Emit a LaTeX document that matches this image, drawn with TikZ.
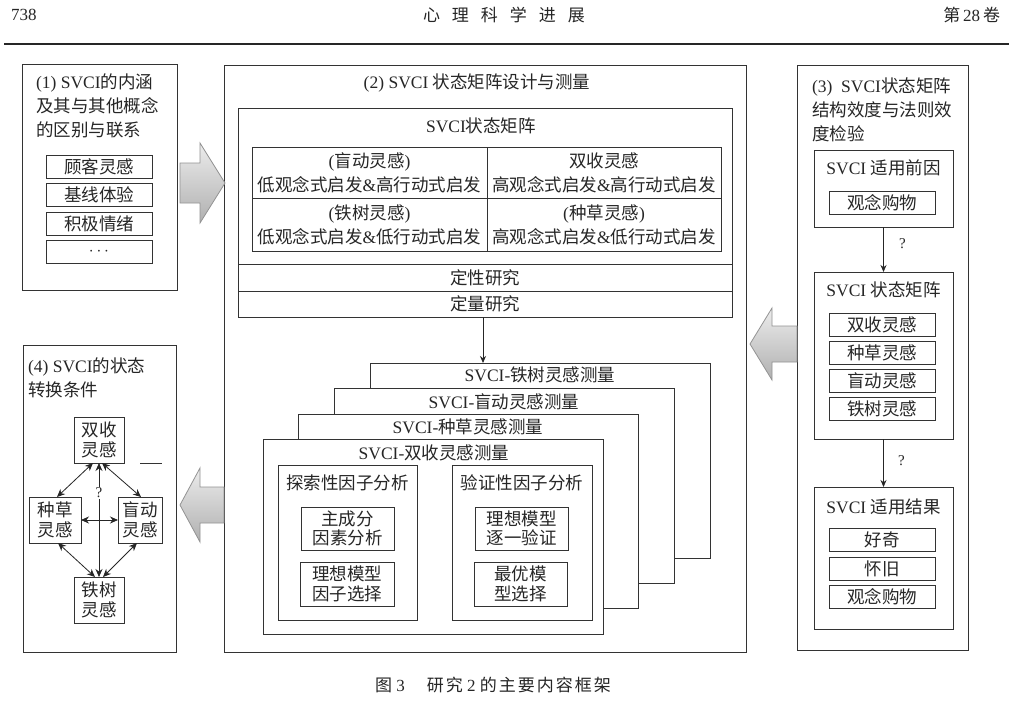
\documentclass[tikz,border=0pt]{standalone}
\usepackage{fontspec}
\setmainfont{Noto Sans CJK SC}
\newfontfamily\lat{Liberation Serif}
\usetikzlibrary{arrows.meta, positioning}
\newcommand\boxfont{\fontsize{17.5pt}{24pt}\selectfont}
\newcommand\tightfont{\fontsize{17.5pt}{19.5pt}\selectfont}
\newcommand\quadfont{\fontsize{17.5pt}{20pt}\selectfont}
\tikzset{
  box/.style={draw=black!80, line width=0.8pt, fill=white, inner sep=0pt, outer sep=0pt,
    text=black!85, align=center, font=\boxfont},
  frame/.style 2 args={box, minimum width=#1pt, minimum height=#2pt},
  ttl/.style={inner sep=0pt, outer sep=0pt, text=black!85, font=\boxfont, align=center},
  link/.style={->, line width=0.8pt, draw=black!85},
  dbl/.style={{Stealth[length=8pt,width=7pt]}-{Stealth[length=8pt,width=7pt]}, line width=0.8pt, draw=black!85},
  blockarrow/.style={top color=gray!15, bottom color=gray!62, draw=gray!85, line width=0.8pt},
  qmark/.style={inner sep=0.5pt, text=black!85, font=\lat\fontsize{15pt}{15pt}\selectfont}
}

\begin{document}
\begin{tikzpicture}[x=1pt, y=-1pt, >={Stealth[length=7pt,width=6pt]}]
  \fill[white] (0,0) rectangle (1014,701);
  \useasboundingbox (0,0) rectangle (1014,701);
  % running head
  \node[ttl, anchor=west, font=\lat\fontsize{17pt}{17pt}\selectfont] (pg) at (11,15) {738};
  \node[ttl, font=\fontsize{17pt}{17pt}\selectfont] (jn) at (504,15) {心\hspace{12pt}理\hspace{12pt}科\hspace{12pt}学\hspace{12pt}进\hspace{12pt}展};
  \node[ttl, anchor=east, font=\fontsize{17pt}{17pt}\selectfont] (vol) at (1000,15) {第{\lat\,28\,}卷};
  \draw[line width=1.4pt, black!85] (4,44) -- (1009,44);
  %
  % (1)
  \node[frame={155}{226}] (p1) at (99.5,177) {};
  \node[ttl, anchor=west, align=left] (t1) at (36,106) {{\lat (1) SVCI}的内涵\\及其与其他概念\\的区别与联系};
  \node[frame={106}{23}] (c1) at (99,166.5) {顾客灵感};
  \node[frame={106}{23}] (c2) at (99,195) {基线体验};
  \node[frame={106}{23}] (c3) at (99,223.5) {积极情绪};
  \node[frame={106}{23}] (c4) at (99,251.5) {$\cdots$};
  %
  % (2)
  \node[frame={522}{587}] (p2) at (485,358.5) {};
  \node[ttl] (t2) at (477,83) {{\lat (2) SVCI }状态矩阵设计与测量};
  \node[frame={494}{209}] (mat) at (485,212.5) {};
  \node[ttl] (matt) at (481,126) {{\lat SVCI}状态矩阵};
  \node[frame={235}{51}] (q1) at (369.5,172.5) {{\lat(}盲动灵感{\lat)}\\低观念式启发{\lat\&}高行动式启发};
  \node[frame={234}{51}] (q2) at (604,172.5) {双收灵感\\高观念式启发{\lat\&}高行动式启发};
  \node[frame={235}{53}] (q3) at (369.5,224.5) {{\lat(}铁树灵感{\lat)}\\低观念式启发{\lat\&}低行动式启发};
  \node[frame={234}{53}] (q4) at (604,224.5) {{\lat(}种草灵感{\lat)}\\高观念式启发{\lat\&}低行动式启发};
  \node[frame={494}{27}] (ql) at (485,277.5) {定性研究};
  \node[frame={494}{26}] (qn) at (485,304) {定量研究};
  %
  \node[frame={340}{195}] (mA) at (540,460.5) {};
  \node[ttl] (mAt) at (540,375) {{\lat SVCI-}铁树灵感测量};
  \node[frame={340}{195}] (mB) at (504,485.5) {};
  \node[ttl] (mBt) at (504,402) {{\lat SVCI-}盲动灵感测量};
  \node[frame={340}{194}] (mC) at (468,511) {};
  \node[ttl] (mCt) at (468,427) {{\lat SVCI-}种草灵感测量};
  \node[frame={340}{195}] (mD) at (433,536.5) {};
  \node[ttl] (mDt) at (434,453) {{\lat SVCI-}双收灵感测量};
  \draw[link] (qn.south) ++(-2,0) -- ([xshift=-57pt]mA.north);
  %
  \node[frame={139}{155}] (efa) at (347.5,542.5) {};
  \node[ttl] (efat) at (347.5,483) {探索性因子分析};
  \node[frame={93}{43}, font=\tightfont] (efa1) at (347.5,528.5) {主成分\\因素分析};
  \node[frame={94}{44}, font=\tightfont] (efa2) at (347,584) {理想模型\\因子选择};
  \node[frame={140}{155}] (cfa) at (522,542.5) {};
  \node[ttl] (cfat) at (522,483) {验证性因子分析};
  \node[frame={93}{43}, font=\tightfont] (cfa1) at (521.5,528.5) {理想模型\\逐一验证};
  \node[frame={93}{44}, font=\tightfont] (cfa2) at (520.5,584) {最优模\\型选择};
  %
  % (3)
  \node[frame={171}{585}] (p3) at (882.5,357.5) {};
  \node[ttl, anchor=west, align=left] (t3) at (812,109.5) {{\lat (3)\ \ SVCI}状态矩阵\\结构效度与法则效\\度检验};
  \node[frame={139}{77}] (ante) at (883.5,188.5) {};
  \node[ttl] (antet) at (883.5,168) {{\lat SVCI }适用前因};
  \node[frame={106}{23}] (a1) at (882,202.5) {观念购物};
  \node[frame={139}{167}] (smat) at (883.5,355.5) {};
  \node[ttl] (smatt) at (883.5,290) {{\lat SVCI }状态矩阵};
  \node[frame={106}{23}] (s1) at (882,324.5) {双收灵感};
  \node[frame={106}{23}] (s2) at (882,352.5) {种草灵感};
  \node[frame={106}{23}] (s3) at (882,380.5) {盲动灵感};
  \node[frame={106}{23}] (s4) at (882,409) {铁树灵感};
  \node[frame={139}{142}] (res) at (883.5,558) {};
  \node[ttl] (rest) at (883.5,507) {{\lat SVCI }适用结果};
  \node[frame={106}{23}] (r1) at (882,540) {好奇};
  \node[frame={106}{23}] (r2) at (882,568.5) {怀旧};
  \node[frame={106}{23}] (r3) at (882,596.5) {观念购物};
  \draw[link] (ante.south) -- (smat.north) node[qmark, pos=0.36, xshift=19pt] {?};
  \draw[link] (smat.south) -- (res.north) node[qmark, pos=0.46, xshift=18pt] {?};
  %
  % (4)
  \node[frame={153}{307}] (p4) at (99.5,498.5) {};
  \node[ttl, anchor=west, align=left] (t4) at (28,377.5) {{\lat (4) SVCI}的状态\\转换条件};
  \node[frame={50}{46}, font=\quadfont] (sh) at (99,440) {双收\\灵感};
  \node[frame={52}{46}, font=\quadfont] (zc) at (55,520) {种草\\灵感};
  \node[frame={44}{46}, font=\quadfont] (md) at (140,520) {盲动\\灵感};
  \node[frame={50}{46}, font=\quadfont] (ts) at (99,600) {铁树\\灵感};
  \draw[dbl] ([xshift=-6pt]sh.south) -- ([xshift=2pt]zc.north);
  \draw[dbl] ([xshift=3pt]sh.south) -- ([xshift=1pt]md.north);
  \draw[dbl] ([xshift=3pt]zc.south) -- ([xshift=-4pt]ts.north);
  \draw[dbl] ([xshift=-3pt]md.south) -- ([xshift=4pt]ts.north);
  \draw[dbl] (sh.south) -- (ts.north);
  \draw[dbl] (zc.east) -- (md.west);
  \node[qmark, fill=white] (q) at (99,493) {?};
  \draw[line width=0.8pt, black!80] (140,463) -- (162,463);
  %
  % block arrows
  \shade[blockarrow] (180,163) -- (200,163) -- (200,143) -- (225,183) -- (200,223) -- (200,203) -- (180,203) -- cycle;
  \shade[blockarrow] (224,487) -- (200,487) -- (200,468) -- (180,505) -- (200,542) -- (200,523) -- (224,523) -- cycle;
  \shade[blockarrow] (797,326) -- (772,326) -- (772,308) -- (750,344) -- (772,380) -- (772,362) -- (797,362) -- cycle;
  %
  \node[ttl, font=\fontsize{17pt}{17pt}\selectfont] (cap) at (493,685) {图{\lat\ 3}\hspace{22pt}研\hspace{2pt}究{\lat\ 2\ }的\hspace{2pt}主\hspace{2pt}要\hspace{2pt}内\hspace{2pt}容\hspace{2pt}框\hspace{2pt}架};
\end{tikzpicture}
\end{document}
